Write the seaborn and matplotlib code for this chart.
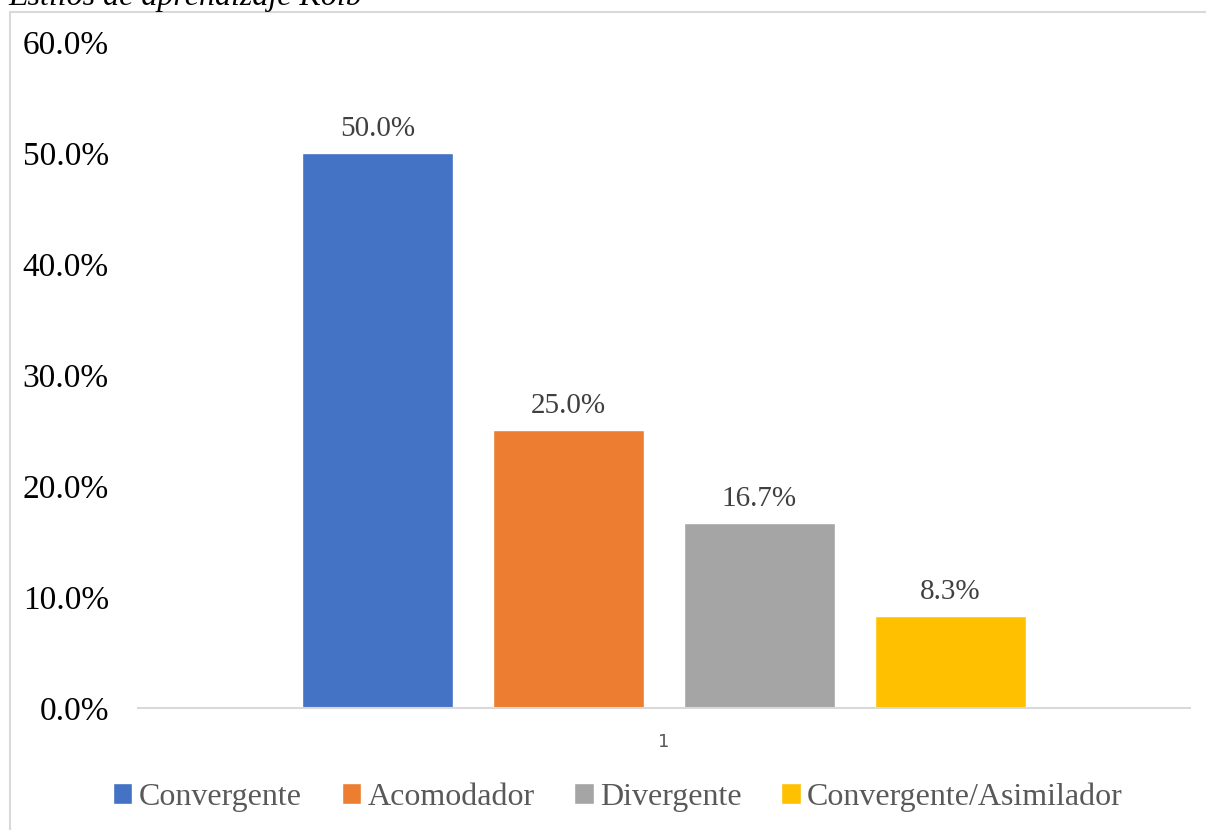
import matplotlib
matplotlib.use("Agg")
import matplotlib.pyplot as plt
import seaborn as sns
import pandas as pd
from matplotlib.patches import Rectangle
from matplotlib.ticker import FuncFormatter

categories = ["Convergente", "Acomodador", "Divergente", "Convergente/Asimilador"]
values = [50.0, 25.0, 16.7, 8.3]
group = ["1", "1", "1", "1"]
colors = ["#4472C4", "#ED7D31", "#A5A5A5", "#FFC000"]
title = "Estilos de aprendizaje Kolb"

df = pd.DataFrame({"grupo": group, "estilo": categories, "valor": values})

sns.set_theme(style="white")
plt.rcParams["font.family"] = ["Liberation Serif", "DejaVu Serif"]

fig = plt.figure(figsize=(12.06, 8.30), dpi=100)
ax = fig.add_axes([138/1206, 1-708/830, (1190-138)/1206, (708-42)/830])

sns.barplot(data=df, x="grupo", y="valor", hue="estilo", hue_order=categories,
            palette=colors, width=0.726, gap=0.21, saturation=1, ax=ax,
            legend=True, errorbar=None)

ax.set_ylim(0, 60)
ax.set_xlim(-0.5, 0.5)
ax.set_yticks([0, 10, 20, 30, 40, 50, 60])
ax.yaxis.set_major_formatter(FuncFormatter(lambda v, p: f"{v:.1f}%"))
ax.tick_params(axis="y", labelsize=24, labelcolor="#000000", length=0, pad=21)
ax.tick_params(axis="x", labelsize=13, labelcolor="#595959", length=0, pad=18)
for lab in ax.get_xticklabels():
    lab.set_fontfamily("DejaVu Sans")
ax.set_xlabel("")
ax.set_ylabel("")
for s in ["top", "right", "left"]:
    ax.spines[s].set_visible(False)
ax.spines["bottom"].set_color("#D9D9D9")
ax.spines["bottom"].set_linewidth(1.5)

for cont in ax.containers:
    ax.bar_label(cont, labels=[f"{v:.1f}%" for v in cont.datavalues],
                 padding=8, fontsize=21, color="#404040")

handles, labels = ax.get_legend_handles_labels()
ax.legend_.remove()
leg = fig.legend(handles, labels, loc="center", bbox_to_anchor=(618/1206, 1-797/830),
                 ncol=4, frameon=False, fontsize=23, handlelength=0.6, handleheight=0.6,
                 handletextpad=0.2, columnspacing=1.25, labelcolor="#595959")

fig.patches.append(Rectangle((10/1206, -0.05), 1.1, 1-12/830+0.05,
                             transform=fig.transFigure, fill=False,
                             edgecolor="#D9D9D9", linewidth=1.5, zorder=-1))
fig.text(8/1206, 1-5/830, title, fontsize=23, fontstyle="italic",
         color="#000000", ha="left", va="baseline")

fig.savefig("out.png", dpi=100)
